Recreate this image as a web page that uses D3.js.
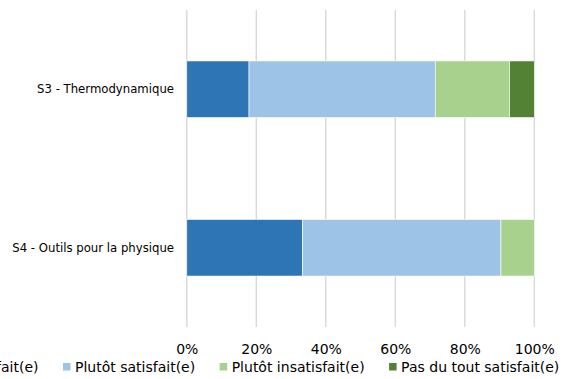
<!DOCTYPE html>
<html>
<head>
<meta charset="utf-8">
<script src="https://cdn.jsdelivr.net/npm/d3@7"></script>
<style>
  html, body { margin: 0; padding: 0; background: #fff; }
  svg { display: block; font-family: "DejaVu Sans", Verdana, sans-serif; }
</style>
</head>
<body>
<svg id="chart" width="563" height="379"></svg>
<script>
const categories = ["S3 - Thermodynamique", "S4 - Outils pour la physique"];
const seriesNames = ["Très satisfait(e)", "Plutôt satisfait(e)", "Plutôt insatisfait(e)", "Pas du tout satisfait(e)"];
const seriesColors = ["#2E75B6", "#9DC3E6", "#A9D18E", "#548235"];
const tresSatisfait = [17.9, 33.3];
const plutotSatisfait = [53.6, 57.1];
const plutotInsatisfait = [21.4, 9.6];
const pasDuTout = [7.1, 0];
const tickValues = [0, 20, 40, 60, 80, 100];

const seriesValues = [tresSatisfait, plutotSatisfait, plutotInsatisfait, pasDuTout];
const rows = categories.map((c, i) => {
  const r = { cat: c };
  seriesNames.forEach((s, j) => r[s] = seriesValues[j][i]);
  return r;
});

const svg = d3.select("#chart");
const x = d3.scaleLinear().domain([0, 100]).range([186.8, 534.3]);
const y = d3.scaleBand().domain(categories).range([10, 327])
  .paddingInner(0.643).paddingOuter(0.3215);

// gridlines
svg.append("g").selectAll("line").data(tickValues).join("line")
  .attr("x1", d => x(d)).attr("x2", d => x(d))
  .attr("y1", 10).attr("y2", 327)
  .attr("stroke", "#d9d9d9").attr("stroke-width", 1.4);

// stacked bars
const stack = d3.stack().keys(seriesNames)(rows);
svg.append("g").selectAll("g").data(stack).join("g")
  .attr("fill", (d, i) => seriesColors[i])
  .selectAll("rect").data(d => d).join("rect")
  .attr("x", d => x(d[0]))
  .attr("width", d => Math.max(0, x(d[1]) - x(d[0])))
  .attr("y", d => y(d.data.cat))
  .attr("height", y.bandwidth())
  .attr("stroke", "#fff").attr("stroke-width", 0.6);

// x-axis tick labels
const xAxis = d3.axisBottom(x).tickValues(tickValues).tickFormat(d => d + "%").tickSize(0).tickPadding(0);
const gx = svg.append("g").attr("transform", "translate(0,344)").call(xAxis);
gx.select(".domain").remove();
gx.selectAll("text").attr("font-size", 14).attr("fill", "#000")
  .attr("font-family", "DejaVu Sans, Verdana, sans-serif").attr("dy", "0.72em");

// y-axis category labels
const yAxis = d3.axisLeft(y).tickSize(0).tickPadding(0);
const gy = svg.append("g").attr("transform", "translate(174,0)").call(yAxis);
gy.select(".domain").remove();
gy.selectAll("text").attr("font-size", 11.7).attr("fill", "#000")
  .attr("font-family", "DejaVu Sans, Verdana, sans-serif");

// legend
const legend = svg.append("g");
const items = legend.selectAll("g").data(seriesNames).join("g");
items.append("rect").attr("width", 7.5).attr("height", 7.5)
  .attr("y", 363).attr("fill", (d, i) => seriesColors[i]);
items.append("text").text(d => d).attr("x", 12).attr("y", 371.5)
  .attr("font-size", 14).attr("fill", "#000");
// layout: anchor the last legend text end at 559.3, laying out right to left
let cursor = 559.3;
const widths = [];
items.each(function() { widths.push(d3.select(this).select("text").node().getComputedTextLength()); });
const xs = [];
for (let i = seriesNames.length - 1; i >= 0; i--) {
  const start = cursor - widths[i] - 12;
  xs[i] = start;
  cursor = start - 24.5;
}
items.attr("transform", (d, i) => `translate(${xs[i]},0)`);
</script>
</body>
</html>
